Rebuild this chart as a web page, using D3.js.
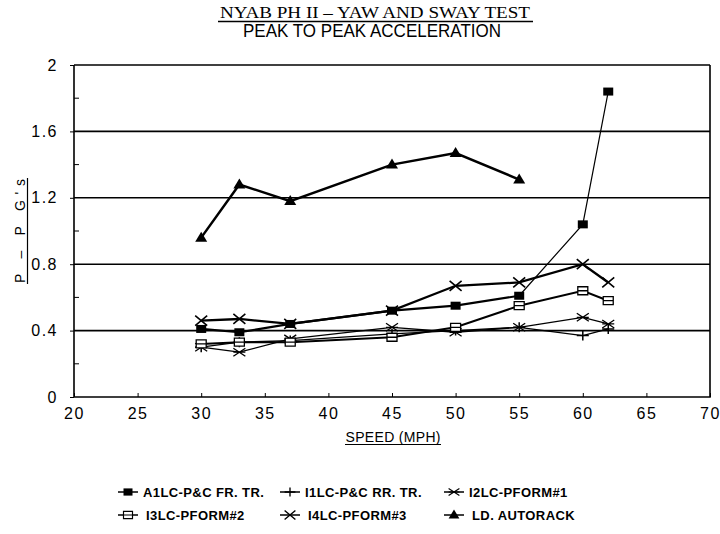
<!DOCTYPE html>
<html>
<head>
<meta charset="utf-8">
<script src="https://cdn.jsdelivr.net/npm/d3@7"></script>
<style>
  body { margin: 0; background: #fff; }
  svg { display: block; }
</style>
</head>
<body>
<div id="chart"></div>
<script>
// speeds (mph) and peak to peak accelerations (G's)
var speeds = [30, 33, 37, 45, 50, 55, 60, 62];
var a1lcFrTr = [0.41, 0.39, 0.44, 0.52, 0.55, 0.61, 1.04, 1.84];
var i1lcRrTr = [0.30, 0.33, 0.34, 0.38, 0.40, 0.42, 0.37, 0.41];
var i2lcPform1 = [0.30, 0.27, 0.35, 0.42, 0.39, 0.42, 0.48, 0.44];
var i3lcPform2 = [0.32, 0.33, 0.33, 0.36, 0.42, 0.55, 0.64, 0.58];
var i4lcPform3 = [0.46, 0.47, 0.44, 0.52, 0.67, 0.69, 0.80, 0.69];
var ldAutorack = [0.96, 1.28, 1.18, 1.40, 1.47, 1.31];

var xTicks = [20, 25, 30, 35, 40, 45, 50, 55, 60, 65, 70];
var yTicks = [0, 0.4, 0.8, 1.2, 1.6, 2];
var yMinor = [0.2, 0.6, 1.0, 1.4, 1.8];

var seriesNames = ["A1LC-P&C FR. TR.", "I1LC-P&C RR. TR.", "I2LC-PFORM#1",
                   "I3LC-PFORM#2", "I4LC-PFORM#3", "LD. AUTORACK"];

var width = 720, height = 534;
var margin = { top: 65, right: 10, bottom: 137, left: 74 };
var plotW = width - margin.left - margin.right;
var plotH = height - margin.top - margin.bottom;

var svg = d3.select("#chart").append("svg")
    .attr("width", width)
    .attr("height", height);

var g = svg.append("g")
    .attr("transform", "translate(" + margin.left + "," + margin.top + ")");

var x = d3.scaleLinear().domain([20, 70]).range([0, plotW]);
var y = d3.scaleLinear().domain([0, 2]).range([plotH, 0]);

// title + underline
svg.append("text")
    .attr("x", 375).attr("y", 18)
    .attr("text-anchor", "middle")
    .style("font-family", "Liberation Serif")
    .style("font-size", "16px")
    .attr("textLength", 310)
    .attr("lengthAdjust", "spacingAndGlyphs")
    .text("NYAB PH II \u2013 YAW AND SWAY TEST");
svg.append("line")
    .attr("x1", 218).attr("x2", 533).attr("y1", 21.5).attr("y2", 21.5)
    .attr("stroke", "#000").attr("stroke-width", 1.3);
svg.append("text")
    .attr("x", 372).attr("y", 37)
    .attr("text-anchor", "middle")
    .style("font-family", "Liberation Sans")
    .style("font-size", "18px")
    .attr("textLength", 258)
    .attr("lengthAdjust", "spacingAndGlyphs")
    .text("PEAK TO PEAK ACCELERATION");

// horizontal grid lines
g.selectAll(".grid")
    .data(yTicks.slice(1))
    .enter().append("line")
    .attr("x1", 0).attr("x2", plotW)
    .attr("y1", function(d) { return y(d); })
    .attr("y2", function(d) { return y(d); })
    .attr("stroke", "#000")
    .attr("stroke-width", 1.6);

// frame: left, bottom, right
g.append("path")
    .attr("d", "M0,0V" + plotH + "H" + plotW + "V0")
    .attr("fill", "none")
    .attr("stroke", "#000")
    .attr("stroke-width", 1.6);

// y axis
var yAxis = d3.axisLeft(y).tickValues(yTicks).tickSize(4).tickPadding(12)
    .tickFormat(function(d) { return d === 0 || d === 2 ? d : d3.format(".1f")(d); });
var yg = g.append("g").call(yAxis);
yg.select(".domain").remove();
yg.selectAll("text")
    .style("font-family", "Liberation Sans")
    .style("font-size", "16px")
    .style("letter-spacing", "1.5px")
    .attr("fill", "#000");
g.selectAll(".yminor")
    .data(yMinor)
    .enter().append("line")
    .attr("x1", 0).attr("x2", 5)
    .attr("y1", function(d) { return y(d); })
    .attr("y2", function(d) { return y(d); })
    .attr("stroke", "#000");

// x axis
var xAxis = d3.axisBottom(x).tickValues(xTicks).tickSizeInner(-4).tickSizeOuter(0).tickPadding(11);
var xg = g.append("g").attr("transform", "translate(0," + plotH + ")").call(xAxis);
xg.select(".domain").remove();
xg.selectAll("text")
    .style("font-family", "Liberation Sans")
    .style("font-size", "16px")
    .style("letter-spacing", "1.5px")
    .attr("fill", "#000");

// axis titles, underlined by hand
svg.append("text")
    .attr("x", 393).attr("y", 442)
    .attr("text-anchor", "middle")
    .style("font-family", "Liberation Sans")
    .style("font-size", "14px")
    .attr("textLength", 95)
    .text("SPEED (MPH)");
svg.append("line")
    .attr("x1", 345).attr("x2", 441).attr("y1", 444.5).attr("y2", 444.5)
    .attr("stroke", "#000").attr("stroke-width", 1.2);
svg.append("text")
    .attr("transform", "translate(25,231) rotate(-90)")
    .attr("text-anchor", "middle")
    .style("font-family", "Liberation Sans")
    .style("font-size", "14px")
    .attr("textLength", 104)
    .text("P \u2013 P G's");
svg.append("line")
    .attr("x1", 27.5).attr("x2", 27.5).attr("y1", 178).attr("y2", 284)
    .attr("stroke", "#000").attr("stroke-width", 1.2);

// marker drawing
function drawMarker(sel, type) {
    if (type === "fsquare") {
        sel.append("rect").attr("x", -5).attr("y", -4).attr("width", 10).attr("height", 8).attr("fill", "#000");
    } else if (type === "plus") {
        sel.append("path").attr("d", "M-6,0H6M0,-5V5").attr("stroke", "#000").attr("stroke-width", 1.5);
    } else if (type === "star") {
        sel.append("path").attr("d", "M-6,-4L6,4M-6,4L6,-4M-6,0H6").attr("stroke", "#000").attr("stroke-width", 1.3);
    } else if (type === "osquare") {
        sel.append("path").attr("d", "M-5,-4H5V4H-5ZM-5,0H5").attr("fill", "#fff").attr("stroke", "#000").attr("stroke-width", 1.3);
    } else if (type === "cross") {
        sel.append("path").attr("d", "M-6,-5L6,5M-6,5L6,-5").attr("stroke", "#000").attr("stroke-width", 1.6);
    } else if (type === "triangle") {
        sel.append("path").attr("d", "M0,-6L6,4H-6Z").attr("fill", "#000");
    }
}

var series = [
    { values: a1lcFrTr, marker: "fsquare", width: 2.2 },
    { values: i1lcRrTr, marker: "plus", width: 1.3 },
    { values: i2lcPform1, marker: "star", width: 1.3 },
    { values: i3lcPform2, marker: "osquare", width: 2 },
    { values: i4lcPform3, marker: "cross", width: 2.3 },
    { values: ldAutorack, marker: "triangle", width: 2.5 }
];

var line = d3.line()
    .x(function(d) { return x(d[0]); })
    .y(function(d) { return y(d[1]); });

series.forEach(function(s, si) {
    var pts = s.values.map(function(v, i) { return [speeds[i], v]; });
    if (si === 0) {
        // steep end of the front truck series is drawn thin
        g.append("path").datum(pts.slice(0, 6)).attr("d", line)
            .attr("fill", "none").attr("stroke", "#000").attr("stroke-width", s.width);
        g.append("path").datum(pts.slice(5)).attr("d", line)
            .attr("fill", "none").attr("stroke", "#000").attr("stroke-width", 1.2);
    } else {
        g.append("path").datum(pts).attr("d", line)
            .attr("fill", "none").attr("stroke", "#000").attr("stroke-width", s.width);
    }
    g.selectAll(".m" + si)
        .data(pts)
        .enter().append("g")
        .attr("class", "m" + si)
        .attr("transform", function(d) { return "translate(" + x(d[0]) + "," + y(d[1]) + ")"; })
        .each(function() { drawMarker(d3.select(this), s.marker); });
});

// legend, two rows of three
var legX = [118, 280, 444];
var legY = [492, 515];
var legend = svg.selectAll(".legend")
    .data(series)
    .enter().append("g")
    .attr("class", "legend")
    .attr("transform", function(d, i) { return "translate(" + legX[i % 3] + "," + legY[Math.floor(i / 3)] + ")"; });
legend.append("line")
    .attr("x1", 0).attr("x2", 20).attr("y1", 0).attr("y2", 0)
    .attr("stroke", "#000").attr("stroke-width", 1.5);
legend.append("g")
    .attr("transform", "translate(10,0) scale(0.9)")
    .each(function(d) { drawMarker(d3.select(this), d.marker); });
legend.append("text")
    .attr("x", function(d, i) { return i < 3 ? 25 : 28; })
    .attr("y", 4.5)
    .style("font-family", "Liberation Sans")
    .style("font-size", "13px")
    .style("font-weight", "bold")
    .style("letter-spacing", "0.4px")
    .text(function(d, i) { return seriesNames[i]; });
</script>
</body>
</html>
